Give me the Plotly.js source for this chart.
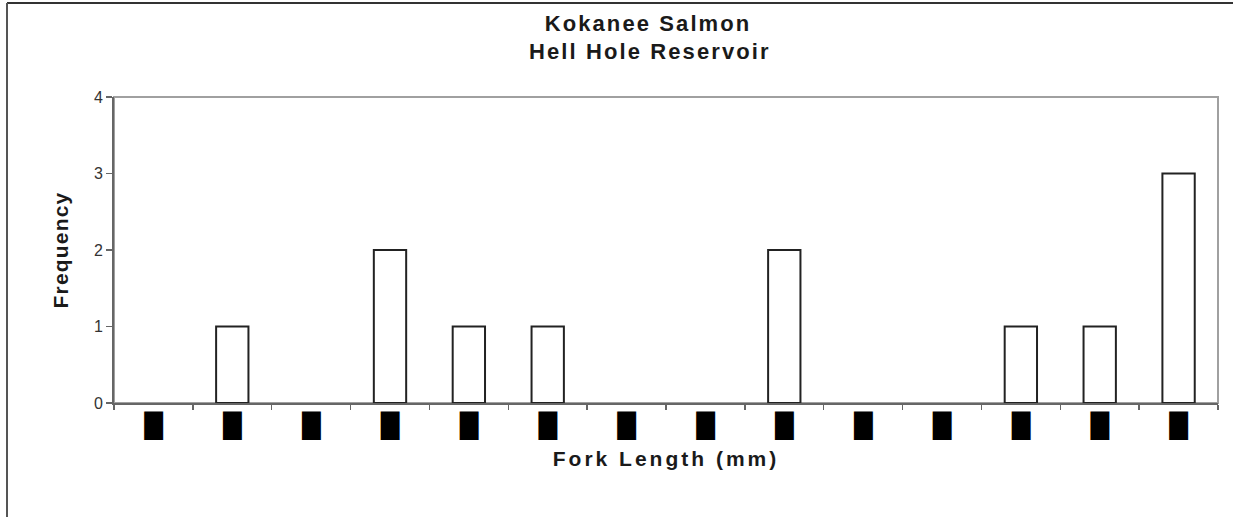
<!DOCTYPE html>
<html>
<head>
<meta charset="utf-8">
<script src="https://cdn.plot.ly/plotly-3.0.1.min.js"></script>
<style>
  html, body { margin: 0; padding: 0; background: #fff; }
  #chart { width: 1233px; height: 517px; }
  .gtitle, .annotation-text { letter-spacing: 2.1px; }
  .xtitle { letter-spacing: 3px; }
  .ytitle { letter-spacing: 1.2px; }
</style>
</head>
<body>
<div id="chart"></div>
<script>
// Data
const categories = ["b1","b2","b3","b4","b5","b6","b7","b8","b9","b10","b11","b12","b13","b14"];
const frequency  = [0, 1, 0, 2, 1, 1, 0, 0, 2, 0, 0, 1, 1, 3];
// x tick labels render as solid black blocks in the reference
const tickLabels = ["█","█","█","█","█","█","█","█","█","█","█","█","█","█"];
const yTicks = [0, 1, 2, 3, 4];
const titleLine1 = "Kokanee Salmon";
const titleLine2 = "Hell Hole Reservoir";

const trace = {
  type: "bar",
  x: categories,
  y: frequency,
  marker: {
    color: "#ffffff",
    line: { color: "#222222", width: frequency.map(v => (v > 0 ? 2 : 0)) }
  },
  hoverinfo: "x+y"
};

// geometry helpers (plot area: x 114..1218, y 97..403)
const L = 114, R = 15, T = 97, B = 114, W = 1233, H = 517;
const pw = W - L - R, ph = H - T - B;
const px = v => (v - L) / pw;
const py = v => (H - B - v) / ph;

const titleFont = { family: "Liberation Sans, Arial, sans-serif", size: 22, color: "#1a1a1a", weight: "bold" };

const layout = {
  width: W, height: H,
  margin: { l: L, r: R, t: T, b: B, pad: 0 },
  paper_bgcolor: "#ffffff",
  plot_bgcolor: "#ffffff",
  showlegend: false,
  bargap: 0.59,
  title: {
    text: titleLine1,
    font: titleFont,
    x: px(648), xref: "paper", xanchor: "center",
    y: 1 - 23 / H, yref: "container", yanchor: "middle"
  },
  annotations: [
    { text: titleLine2, font: titleFont, showarrow: false,
      xref: "paper", yref: "paper", x: px(650), y: py(51),
      xanchor: "center", yanchor: "middle" }
  ],
  xaxis: {
    type: "category",
    tickmode: "array",
    tickvals: categories,
    ticktext: tickLabels,
    tickson: "boundaries",
    ticks: "outside",
    ticklen: 5,
    tickwidth: 1.5,
    tickcolor: "#666666",
    tickfont: { family: "DejaVu Sans", size: 24, color: "#000000" },
    showline: true,
    linecolor: "#666666",
    linewidth: 2,
    showgrid: false,
    zeroline: false,
    fixedrange: true,
    title: {
      text: "Fork Length (mm)",
      font: { family: "Liberation Sans, Arial, sans-serif", size: 21, color: "#1a1a1a", weight: "bold" },
      standoff: 13
    }
  },
  yaxis: {
    range: [0, 4],
    tickmode: "array",
    tickvals: yTicks,
    ticks: "outside",
    ticklen: 6,
    tickwidth: 1.5,
    tickcolor: "#666666",
    tickfont: { family: "Liberation Sans, Arial, sans-serif", size: 16, color: "#333333" },
    showline: true,
    linecolor: "#666666",
    linewidth: 2,
    showgrid: false,
    zeroline: false,
    fixedrange: true,
    title: {
      text: "Frequency",
      font: { family: "Liberation Sans, Arial, sans-serif", size: 21, color: "#1a1a1a", weight: "bold" },
      standoff: 20
    }
  },
  shapes: [
    // plot area border (top/right in light gray)
    { type: "rect", xref: "paper", yref: "paper", x0: 0, x1: 1, y0: 0, y1: 1,
      line: { color: "#a0a0a0", width: 2 }, layer: "below" },
    // outer chart frame (top and left edges visible)
    { type: "line", xref: "paper", yref: "paper", x0: px(7), x1: px(1240), y0: py(3), y1: py(3),
      line: { color: "#333333", width: 2 } },
    { type: "line", xref: "paper", yref: "paper", x0: px(7), x1: px(7), y0: py(3), y1: py(530),
      line: { color: "#555555", width: 2 } }
  ]
};

Plotly.newPlot("chart", [trace], layout, { displayModeBar: false, staticPlot: true });
</script>
</body>
</html>
